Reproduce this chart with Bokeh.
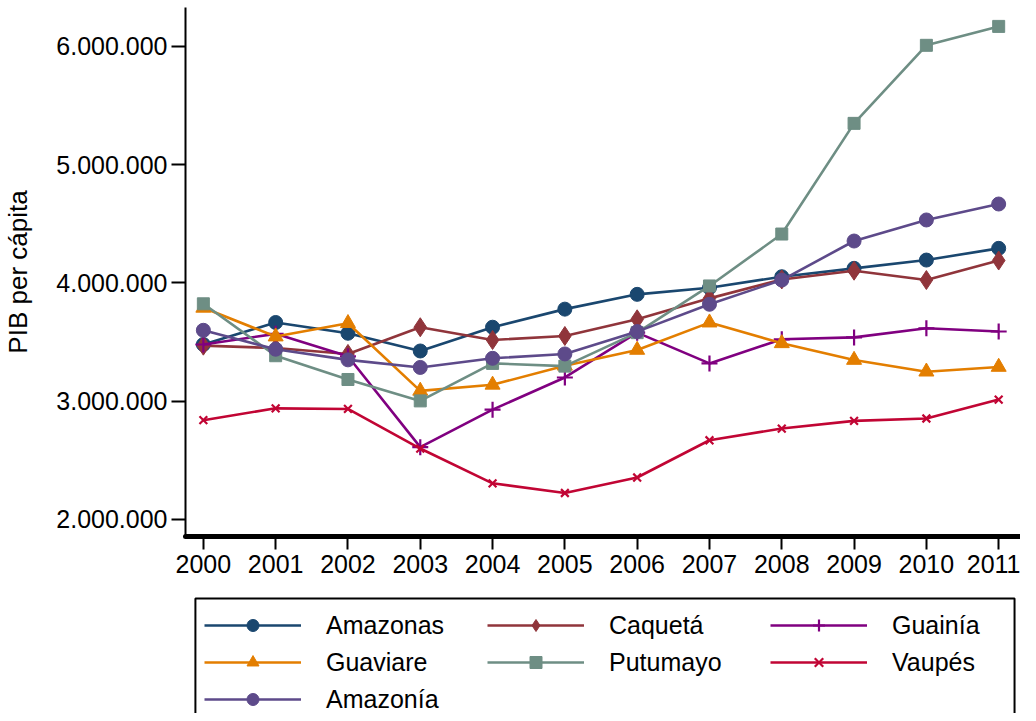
from bokeh.plotting import figure
from bokeh.layouts import column
from bokeh.models import Legend, LegendItem, Range1d, FixedTicker
from bokeh.embed import file_html
from bokeh.resources import INLINE

years = list(range(2000, 2012))
amazonas = [3480000, 3666000, 3575000, 3425000, 3626000, 3779000, 3904000, 3960000, 4053000, 4124000, 4194000, 4293000]
caqueta = [3470000, 3450000, 3400000, 3626000, 3518000, 3552000, 3693000, 3870000, 4030000, 4104000, 4025000, 4190000]
guainia = [3480000, 3570000, 3380000, 2612000, 2929000, 3201000, 3580000, 3320000, 3524000, 3540000, 3617000, 3590000]
guaviare = [3790000, 3547000, 3660000, 3088000, 3139000, 3300000, 3434000, 3665000, 3490000, 3349000, 3250000, 3290000]
putumayo = [3824000, 3385000, 3184000, 3003000, 3320000, 3297000, 3580000, 3975000, 4414000, 5350000, 6010000, 6170000]
vaupes = [2840000, 2940000, 2935000, 2600000, 2306000, 2224000, 2355000, 2670000, 2769000, 2834000, 2854000, 3014000]
amazonia = [3600000, 3440000, 3350000, 3286000, 3363000, 3400000, 3589000, 3820000, 4025000, 4355000, 4533000, 4668000]

names = ["Amazonas", "Caquetá", "Guainía", "Guaviare", "Putumayo", "Vaupés", "Amazonía"]
values = [amazonas, caqueta, guainia, guaviare, putumayo, vaupes, amazonia]
colors = ["#1a476f", "#90353b", "#800080", "#e37e00", "#6e8e84", "#c10534", "#5d4a8a"]
markers = ["circle", "diamond", "cross", "triangle", "square", "x", "circle"]
sizes = [14, 19, 16, 15, 12, 11, 14]

y_ticks = [2000000, 3000000, 4000000, 5000000, 6000000]
y_labels = {v: f"{v:,}".replace(",", ".") for v in y_ticks}

FONT = "Liberation Sans"


def add_series(fig):
    out = []
    for name, vals, col, mk, sz in zip(names, values, colors, markers, sizes):
        lr = fig.line(years, vals, line_color=col, line_width=2.6)
        if mk in ("cross", "x"):
            sr = fig.scatter(years, vals, marker=mk, size=sz, line_color=col, line_width=2.2)
        else:
            sr = fig.scatter(years, vals, marker=mk, size=sz, fill_color=col, line_color=col)
        out.append((name, lr, sr))
    return out


p = figure(width=1020, height=590, output_backend="svg", toolbar_location=None,
           x_range=Range1d(1999.753, 2011.288), y_range=Range1d(1856200, 6329800),
           min_border_left=178, min_border_right=1, min_border_top=7, min_border_bottom=54)
p.outline_line_color = None
p.xgrid.visible = False
p.ygrid.visible = False
p.background_fill_color = "white"
p.border_fill_color = "white"
add_series(p)

p.yaxis.ticker = FixedTicker(ticks=y_ticks)
p.yaxis.major_label_overrides = y_labels
p.yaxis.minor_tick_line_color = None
p.yaxis.major_tick_out = 14
p.yaxis.major_tick_in = 0
p.yaxis.major_tick_line_width = 2
p.yaxis.axis_line_width = 2
p.yaxis.major_label_standoff = 4
p.yaxis.major_label_text_font = FONT
p.yaxis.major_label_text_font_size = "25px"
p.yaxis.major_label_text_color = "black"
p.yaxis.axis_label = "PIB per cápita"
p.yaxis.axis_label_text_font = FONT
p.yaxis.axis_label_text_font_style = "normal"
p.yaxis.axis_label_text_font_size = "26px"
p.yaxis.axis_label_text_color = "black"
p.yaxis.axis_label_standoff = 20

p.xaxis.ticker = FixedTicker(ticks=years)
p.xaxis.minor_tick_line_color = None
p.xaxis.major_tick_out = 13
p.xaxis.major_tick_in = 0
p.xaxis.major_tick_line_width = 2
p.xaxis.axis_line_width = 5
p.xaxis.axis_line_cap = "round"
p.xaxis.major_label_standoff = 5
p.xaxis.major_label_text_font = FONT
p.xaxis.major_label_text_font_size = "25px"
p.xaxis.major_label_text_color = "black"

# legend panel below the chart; ranges in page pixels so the frame box can be placed
lp = figure(width=1020, height=123, output_backend="svg", toolbar_location=None,
            x_range=Range1d(186, 1027), y_range=Range1d(713, 590),
            x_axis_location=None, y_axis_location=None,
            min_border_left=178, min_border_right=1, min_border_top=0, min_border_bottom=0)
lp.outline_line_color = None
lp.xgrid.visible = False
lp.ygrid.visible = False
lp.background_fill_color = "white"
lp.border_fill_color = "white"
# legend frame (runs past the bottom edge, as in the original)
lp.quad(left=[196], right=[1022], top=[598], bottom=[760], fill_color=None,
        line_color="black", line_width=2)
items = [LegendItem(label=n, renderers=[lr, sr]) for n, lr, sr in add_series(lp)]

legend = Legend(items=items, location=(19, -1), orientation="horizontal", ncols=3,
                margin=0, padding=12, spacing=7, glyph_width=97, glyph_height=30,
                label_height=30, label_width=154, label_standoff=25,
                label_text_font=FONT, label_text_font_size="25px", label_text_color="black",
                border_line_color=None, background_fill_alpha=0.0)
lp.add_layout(legend)

open("out.html", "w").write(file_html(column(p, lp, spacing=0), INLINE))
